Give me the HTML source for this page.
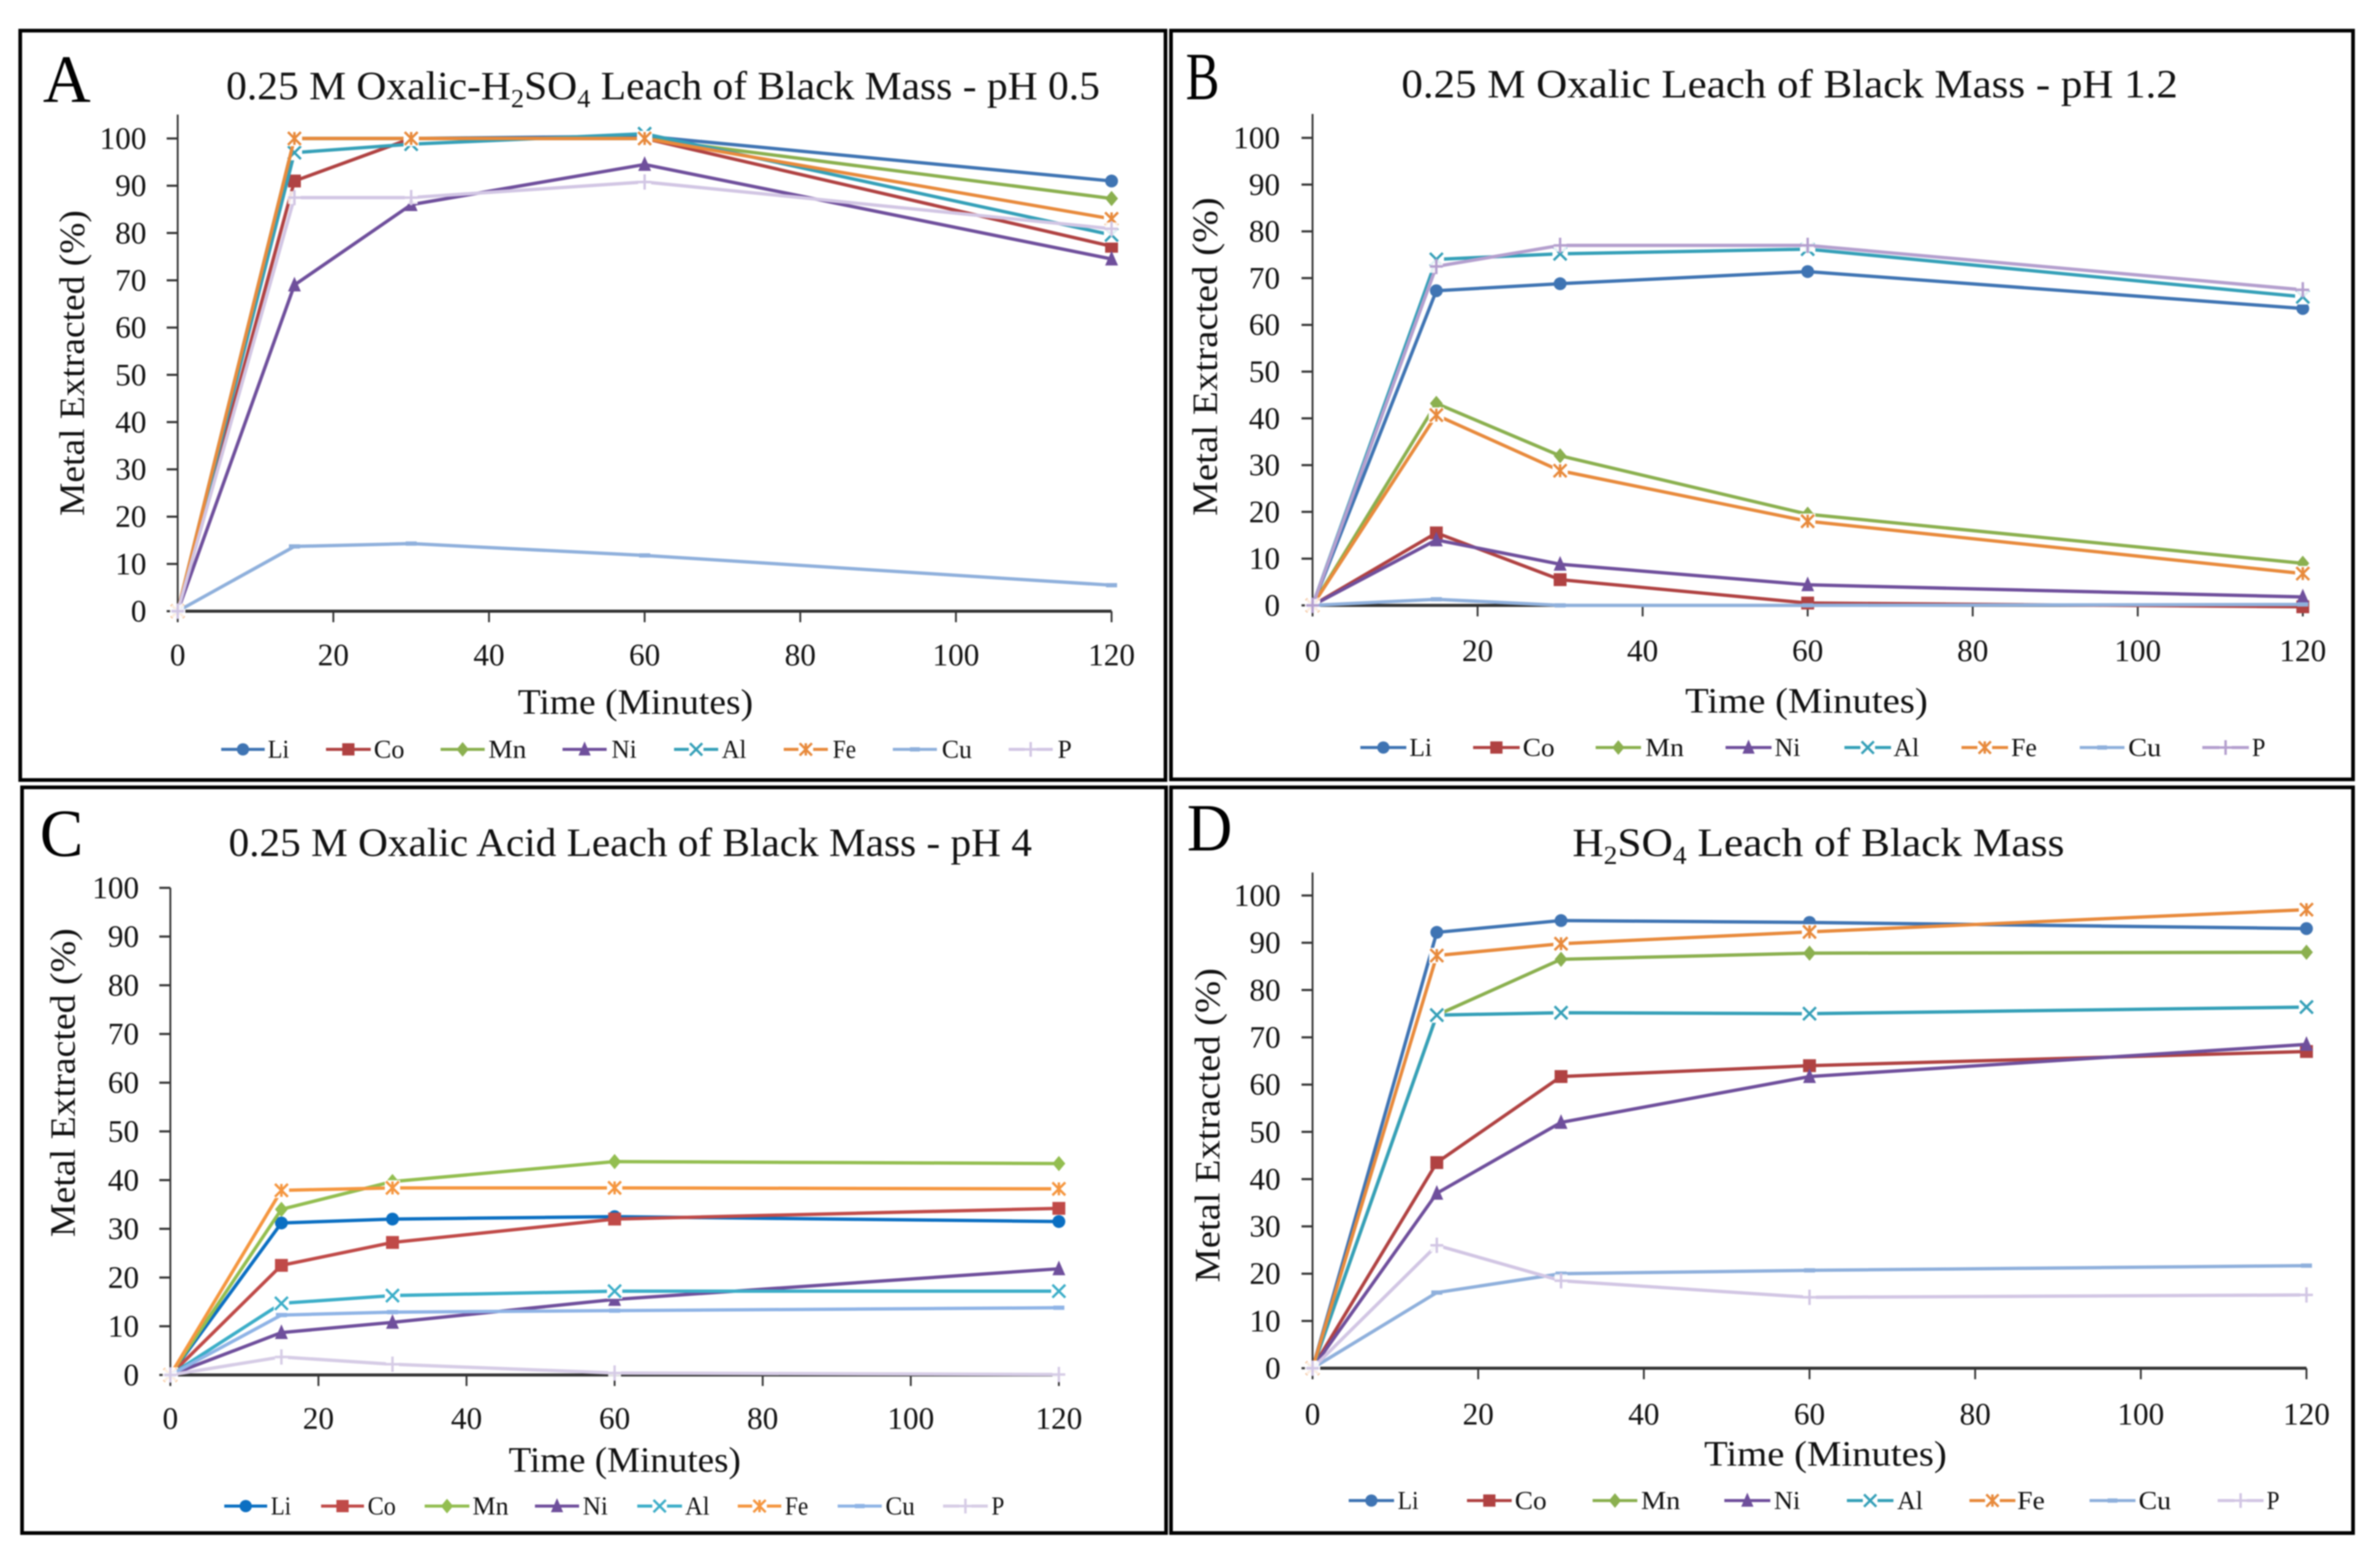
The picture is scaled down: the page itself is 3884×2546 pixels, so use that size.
<!DOCTYPE html>
<html lang="en">
<head>
<meta charset="utf-8">
<title>Metal extraction leach charts</title>
<style>
html,body{margin:0;padding:0;background:#fff;}
svg{display:block;filter:blur(1.1px);}
text{font-family:"Liberation Serif",serif;fill:#111;}
.panel-title{font-size:66px;}
.panel-letter{font-size:110px;fill:#000;}
.axis-title{font-size:58px;}
.tick-label{font-size:51px;}
.legend-label{font-size:42px;}
</style>
</head>
<body>
<svg id="figure" xmlns="http://www.w3.org/2000/svg" width="3884" height="2546" viewBox="0 0 3884 2546">
  <rect x="0" y="0" width="3884" height="2546" fill="#fff"/>

  <g id="panel-a">
    <rect x="33" y="50" width="1869" height="1223" fill="none" stroke="#000" stroke-width="6"/>
    <text class="panel-letter" x="70" y="166" textLength="78" lengthAdjust="spacingAndGlyphs">A</text>
    <text class="panel-title" x="369" y="162" textLength="1426" lengthAdjust="spacingAndGlyphs">0.25 M Oxalic-H<tspan font-size="42" dy="13">2</tspan><tspan dy="-13">SO</tspan><tspan font-size="42" dy="13">4</tspan><tspan dy="-13"> Leach of Black Mass - pH 0.5</tspan></text>
    <text class="axis-title" transform="translate(137,842) rotate(-90)" textLength="499" lengthAdjust="spacingAndGlyphs">Metal Extracted (%)</text>
    <text class="axis-title" x="845" y="1165" textLength="384" lengthAdjust="spacingAndGlyphs">Time (Minutes)</text>
  </g>

  <g id="panel-b">
    <rect x="1911" y="50" width="1929" height="1222" fill="none" stroke="#000" stroke-width="6"/>
    <text class="panel-letter" x="1935" y="162" textLength="55" lengthAdjust="spacingAndGlyphs">B</text>
    <text class="panel-title" x="2287" y="159" textLength="1267" lengthAdjust="spacingAndGlyphs">0.25 M Oxalic Leach of Black Mass - pH 1.2</text>
    <text class="axis-title" transform="translate(1986,842) rotate(-90)" textLength="520" lengthAdjust="spacingAndGlyphs">Metal Extracted (%)</text>
    <text class="axis-title" x="2750" y="1163" textLength="396" lengthAdjust="spacingAndGlyphs">Time (Minutes)</text>
  </g>

  <g id="panel-c">
    <rect x="36" y="1285" width="1867" height="1217" fill="none" stroke="#000" stroke-width="6"/>
    <text class="panel-letter" x="65" y="1397" textLength="71" lengthAdjust="spacingAndGlyphs">C</text>
    <text class="panel-title" x="373" y="1397" textLength="1311" lengthAdjust="spacingAndGlyphs">0.25 M Oxalic Acid Leach of Black Mass - pH 4</text>
    <text class="axis-title" transform="translate(122,2019) rotate(-90)" textLength="504" lengthAdjust="spacingAndGlyphs">Metal Extracted (%)</text>
    <text class="axis-title" x="830" y="2402" textLength="379" lengthAdjust="spacingAndGlyphs">Time (Minutes)</text>
  </g>

  <g id="panel-d">
    <rect x="1911" y="1285" width="1929" height="1217" fill="none" stroke="#000" stroke-width="6"/>
    <text class="panel-letter" x="1937" y="1388" textLength="74" lengthAdjust="spacingAndGlyphs">D</text>
    <text class="panel-title" x="2566" y="1397" textLength="803" lengthAdjust="spacingAndGlyphs">H<tspan font-size="42" dy="13">2</tspan><tspan dy="-13">SO</tspan><tspan font-size="42" dy="13">4</tspan><tspan dy="-13"> Leach of Black Mass</tspan></text>
    <text class="axis-title" transform="translate(1990,2093) rotate(-90)" textLength="513" lengthAdjust="spacingAndGlyphs">Metal Extracted (%)</text>
    <text class="axis-title" x="2781" y="2392" textLength="396" lengthAdjust="spacingAndGlyphs">Time (Minutes)</text>
  </g>
</svg>

<script>
// ---------- chart data ----------
const times = [0, 15, 30, 60, 120];
const xTickValues = [0, 20, 40, 60, 80, 100, 120];
const yTickValues = [0, 10, 20, 30, 40, 50, 60, 70, 80, 90, 100];
const seriesNames = ['Li', 'Co', 'Mn', 'Ni', 'Al', 'Fe', 'Cu', 'P'];

const aLi = [0, 100, 100, 100.5, 91];
const aCo = [0, 91, 100, 100, 77.2];
const aMn = [0, 100, 100, 100, 87.3];
const aNi = [0, 69, 86, 94.5, 74.5];
const aAl = [0, 97, 98.8, 101, 79.6];
const aFe = [0, 100, 100, 100, 83];
const aCu = [0, 13.7, 14.3, 11.8, 5.5];
const aP = [0, 87.5, 87.5, 90.8, 80.9];

const bLi = [0, 67.3, 68.8, 71.4, 63.5];
const bCo = [0, 15.5, 5.5, 0.5, -0.3];
const bMn = [0, 43.2, 32, 19.5, 9];
const bNi = [0, 14, 8.8, 4.4, 1.8];
const bAl = [0, 74, 75.2, 76.2, 66];
const bFe = [0, 40.7, 28.8, 18, 6.8];
const bCu = [0, 1.3, 0, 0, 0.2];
const bP = [0, 72.5, 77, 77, 67.5];

const cLi = [0, 31.2, 32, 32.5, 31.5];
const cCo = [0, 22.5, 27.2, 32, 34.2];
const cMn = [0, 34, 39.7, 43.8, 43.4];
const cNi = [0, 8.7, 10.8, 15.5, 21.8];
const cAl = [0, 14.7, 16.3, 17.2, 17.2];
const cFe = [0, 37.9, 38.4, 38.4, 38.2];
const cCu = [0, 12.3, 12.9, 13.2, 13.8];
const cP = [0, 3.7, 2.2, 0.4, 0.1];

const dLi = [0, 92.2, 94.7, 94.3, 93];
const dCo = [0, 43.5, 61.7, 64, 67];
const dMn = [0, 74.7, 86.5, 87.8, 88];
const dNi = [0, 37, 52, 61.7, 68.5];
const dAl = [0, 74.7, 75.2, 75, 76.4];
const dFe = [0, 87.3, 89.8, 92.3, 97];
const dCu = [0, 16, 20, 20.7, 21.7];
const dP = [0, 26, 18.5, 15, 15.5];

// ---------- styling and layout ----------
const seriesColors = ['#3f74b3', '#b04242', '#8bb04f', '#6f4f9c', '#35a0b8', '#e88a3c', '#8fb0dc', '#d2c6e4'];
const panelBColors = ['#3f74b3', '#b04242', '#8bb04f', '#6f4f9c', '#35a0b8', '#e88a3c', '#8fb0dc', '#b49fce'];
const panelCColors = ['#0b6fc2', '#c04a48', '#93be50', '#6f4f9c', '#3caec8', '#f5963f', '#8fb4e6', '#d6cce6'];
const markerKinds = ['circle', 'square', 'diamond', 'triangle', 'cross', 'star', 'dash', 'plus'];

const panelLayouts = [
  {id: 'a', sets: [aLi, aCo, aMn, aNi, aAl, aFe, aCu, aP], x0: 290, x120: 1814, y0: 997.5, y100: 226, top: 187, xBase: 1086, yEnd: 239, legendY: 1223,
   colors: seriesColors,
   legend: [[361,432,437,472],[532,605,610,660],[719,791,797,859],[918,990,998,1039],[1100,1172,1178,1218],[1279,1351,1359,1397],[1457,1529,1537,1586],[1646,1718,1726,1749]]},
  {id: 'b', sets: [bLi, bCo, bMn, bNi, bAl, bFe, bCu, bP], x0: 2142, x120: 3758, y0: 988, y100: 225, top: 186, xBase: 1079, yEnd: 2089, legendY: 1220,
   colors: panelBColors,
   legend: [[2220,2295,2300,2337],[2404,2480,2485,2537],[2604,2678,2685,2748],[2816,2891,2896,2938],[3010,3086,3090,3132],[3201,3277,3282,3324],[3394,3467,3473,3527],[3594,3670,3675,3697]]},
  {id: 'c', sets: [cLi, cCo, cMn, cNi, cAl, cFe, cCu, cP], x0: 278, x120: 1728, y0: 2244, y100: 1449, top: 1449, xBase: 2332, yEnd: 227, legendY: 2458,
   colors: panelCColors,
   legend: [[366,436,442,475],[524,594,600,646],[693,766,771,830],[873,945,951,992],[1040,1113,1118,1158],[1204,1275,1281,1319],[1367,1439,1445,1493],[1539,1612,1618,1639]]},
  {id: 'd', sets: [dLi, dCo, dMn, dNi, dAl, dFe, dCu, dP], x0: 2142, x120: 3764, y0: 2233, y100: 1461.5, top: 1424, xBase: 2325, yEnd: 2090, legendY: 2449,
   colors: seriesColors,
   legend: [[2201,2275,2281,2315],[2394,2467,2472,2524],[2599,2672,2678,2742],[2814,2889,2895,2938],[3014,3090,3096,3138],[3214,3289,3292,3337],[3410,3485,3490,3543],[3619,3694,3699,3720]]}
];

// ---------- drawing helpers ----------
const SVG_NS = 'http://www.w3.org/2000/svg';

function make(tag, attrs, parent) {
  const node = document.createElementNS(SVG_NS, tag);
  for (const key in attrs) node.setAttribute(key, attrs[key]);
  parent.appendChild(node);
  return node;
}

function addMarkerShape(group, kind, px, py, color, size) {
  const h = size / 2;
  const thin = {stroke: color, 'stroke-width': 4, fill: 'none'};
  if (kind === 'circle') {
    make('circle', {cx: px, cy: py, r: h, fill: color}, group);
  } else if (kind === 'square') {
    make('rect', {x: px - h, y: py - h, width: size, height: size, fill: color}, group);
  } else if (kind === 'diamond') {
    make('polygon', {points: `${px},${py - h - 2} ${px + h},${py} ${px},${py + h + 2} ${px - h},${py}`, fill: color}, group);
  } else if (kind === 'triangle') {
    make('polygon', {points: `${px},${py - h - 3} ${px + h},${py + h} ${px - h},${py + h}`, fill: color}, group);
  } else if (kind === 'cross') {
    make('rect', {x: px - h - 2, y: py - h - 2, width: size + 4, height: size + 4, fill: '#fff'}, group);
    make('path', Object.assign({d: `M${px - h} ${py - h}L${px + h} ${py + h}M${px + h} ${py - h}L${px - h} ${py + h}`}, thin), group);
  } else if (kind === 'star') {
    make('rect', {x: px - h - 2, y: py - h - 2, width: size + 4, height: size + 4, fill: '#fff'}, group);
    make('path', Object.assign({d: `M${px - h} ${py - h}L${px + h} ${py + h}M${px + h} ${py - h}L${px - h} ${py + h}M${px} ${py - h}L${px} ${py + h}`}, thin), group);
  } else if (kind === 'dash') {
    make('rect', {x: px - h, y: py - 3.5, width: size, height: 7, fill: color}, group);
  } else if (kind === 'plus') {
    make('rect', {x: px - h, y: py - h, width: size, height: size, fill: '#fff', opacity: 0.85}, group);
    make('path', Object.assign({d: `M${px - h} ${py}L${px + h} ${py}M${px} ${py - h - 2}L${px} ${py + h + 2}`}, thin), group);
  }
}

// ---------- render every panel ----------
panelLayouts.forEach(function (layout) {
  const panel = document.getElementById('panel-' + layout.id);
  const xScale = function (v) { return layout.x0 + (v / 120) * (layout.x120 - layout.x0); };
  const yScale = function (v) { return layout.y0 - (v / 100) * (layout.y0 - layout.y100); };

  // axes
  const axisGroup = make('g', {stroke: '#333', fill: 'none'}, panel);
  
  

  const yAxis = make('line', {x1: layout.x0, x2: layout.x0, y1: layout.top, y2: layout.y0, 'stroke-width': 3}, axisGroup);
  
  

  const xAxis = make('line', {x1: layout.x0, x2: layout.x120, y1: layout.y0, y2: layout.y0, 'stroke-width': 5}, axisGroup);
  
  

  yTickValues.forEach(function (value) {
    const py = yScale(value);
    const tick = make('line', {x1: layout.x0 - 18, x2: layout.x0, y1: py, y2: py, 'stroke-width': 3.5}, axisGroup);
    
    
    const label = make('text', {class: 'tick-label', x: layout.yEnd, y: py + 17, 'text-anchor': 'end', stroke: 'none'}, axisGroup);
    label.textContent = value;
    
    
  });

  xTickValues.forEach(function (value) {
    const px = xScale(value);
    const tick = make('line', {x1: px, x2: px, y1: layout.y0, y2: layout.y0 + 18, 'stroke-width': 3}, axisGroup);
    
    
    const label = make('text', {class: 'tick-label', x: px, y: layout.xBase, 'text-anchor': 'middle', stroke: 'none'}, axisGroup);
    label.textContent = value;
    
    
  });

  // series
  layout.sets.forEach(function (values, s) {
    const color = layout.colors[s];
    const seriesGroup = make('g', {}, panel);
    
    

    const pts = values.map(function (v, i) { return xScale(times[i]) + ',' + yScale(v); }).join(' ');
    const line = make('polyline', {points: pts, fill: 'none', stroke: color, 'stroke-width': 5.5, 'stroke-linejoin': 'round'}, seriesGroup);
    
    

    values.forEach(function (v, i) {
      const point = make('g', {}, seriesGroup);
      
      
      addMarkerShape(point, markerKinds[s], xScale(times[i]), yScale(v), color, s === 6 ? 18 : 21);
    });
  });

  // legend
  const legendGroup = make('g', {}, panel);
  
  

  seriesNames.forEach(function (name, s) {
    const slot = layout.legend[s];
    const color = layout.colors[s];
    const entry = make('g', {}, legendGroup);
    
    

    make('line', {x1: slot[0], x2: slot[1], y1: layout.legendY, y2: layout.legendY, stroke: color, 'stroke-width': 5}, entry);
    addMarkerShape(entry, markerKinds[s], (slot[0] + slot[1]) / 2, layout.legendY, color, s === 6 ? 16 : 20);

    const label = make('text', {class: 'legend-label', x: slot[2], y: layout.legendY + 14, textLength: slot[3] - slot[2], lengthAdjust: 'spacingAndGlyphs'}, entry);
    label.textContent = name;
    
    
  });
});
</script>
</body>
</html>
